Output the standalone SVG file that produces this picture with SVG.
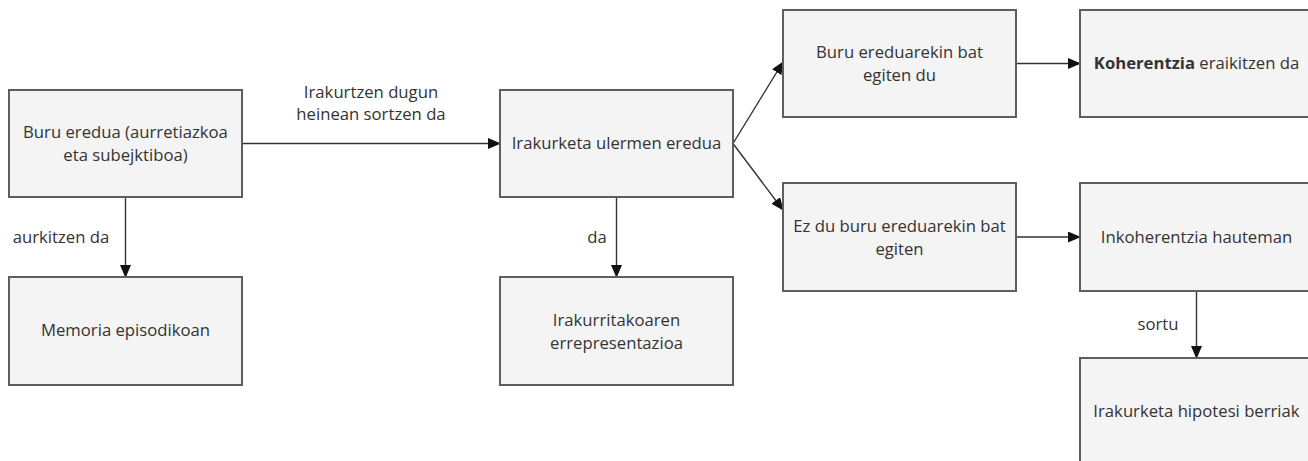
<svg xmlns="http://www.w3.org/2000/svg" width="1308" height="461" viewBox="0 0 1308 461">
<style>
.box{fill:#f4f4f4;stroke:#5e5e5e;stroke-width:2}
.t{font-family:"Open Sans","Liberation Sans",sans-serif;font-size:16.7px;fill:#333333;text-anchor:middle}
.l{font-family:"Open Sans","Liberation Sans",sans-serif;font-size:16.7px;fill:#333333;text-anchor:middle}
.c{fill:none;stroke:#333333;stroke-width:1.4}
</style>
<defs>
<marker id="ah" markerWidth="13" markerHeight="11" refX="12" refY="5.5" orient="auto" markerUnits="userSpaceOnUse">
<path d="M0,0 L13,5.5 L0,11 Z" fill="#111111"/>
</marker>
</defs>
<rect width="1308" height="461" fill="#ffffff"/>
<g id="connectors">
<line class="c" x1="242" y1="143.5" x2="500" y2="143.5" marker-end="url(#ah)"/>
<line class="c" x1="125.5" y1="197" x2="125.5" y2="277" marker-end="url(#ah)"/>
<line class="c" x1="616.5" y1="197" x2="616.5" y2="277" marker-end="url(#ah)"/>
<line class="c" x1="733" y1="143.5" x2="783" y2="62" marker-end="url(#ah)"/>
<line class="c" x1="733" y1="143.5" x2="783" y2="210" marker-end="url(#ah)"/>
<line class="c" x1="1016" y1="63.5" x2="1080" y2="63.5" marker-end="url(#ah)"/>
<line class="c" x1="1016" y1="237" x2="1080" y2="237" marker-end="url(#ah)"/>
<line class="c" x1="1196.5" y1="291" x2="1196.5" y2="358" marker-end="url(#ah)"/>
<text class="l" x="371" y="98">Irakurtzen dugun</text>
<text class="l" x="371" y="120">heinean sortzen da</text>
<text class="l" x="61" y="243">aurkitzen da</text>
<text class="l" x="597" y="243">da</text>
<text class="l" x="1158" y="330">sortu</text>
</g>
<g id="n1">
<rect class="box" x="9" y="90" width="233" height="107"/>
<text class="t" x="125.5" y="138">Buru eredua (aurretiazkoa</text>
<text class="t" x="125.5" y="161">eta subejktiboa)</text>
</g>
<g id="n2">
<rect class="box" x="9" y="277" width="233" height="108"/>
<text class="t" x="125.5" y="336">Memoria episodikoan</text>
</g>
<g id="n3">
<rect class="box" x="500" y="90" width="233" height="107"/>
<text class="t" x="616.5" y="149">Irakurketa ulermen eredua</text>
</g>
<g id="n4">
<rect class="box" x="500" y="277" width="233" height="108"/>
<text class="t" x="616.5" y="326">Irakurritakoaren</text>
<text class="t" x="616.5" y="349">errepresentazioa</text>
</g>
<g id="n5">
<rect class="box" x="783" y="10" width="233" height="107"/>
<text class="t" x="899.5" y="58">Buru ereduarekin bat</text>
<text class="t" x="899.5" y="81">egiten du</text>
</g>
<g id="n6">
<rect class="box" x="783" y="183" width="233" height="108"/>
<text class="t" x="899.5" y="232">Ez du buru ereduarekin bat</text>
<text class="t" x="899.5" y="255">egiten</text>
</g>
<g id="n7">
<rect class="box" x="1080" y="10" width="233" height="107"/>
<text class="t" x="1196.5" y="69"><tspan font-weight="bold">Koherentzia</tspan> eraikitzen da</text>
</g>
<g id="n8">
<rect class="box" x="1080" y="183" width="233" height="108"/>
<text class="t" x="1196.5" y="243">Inkoherentzia hauteman</text>
</g>
<g id="n9">
<rect class="box" x="1080" y="358" width="233" height="108"/>
<text class="t" x="1196.5" y="417">Irakurketa hipotesi berriak</text>
</g>
</svg>
